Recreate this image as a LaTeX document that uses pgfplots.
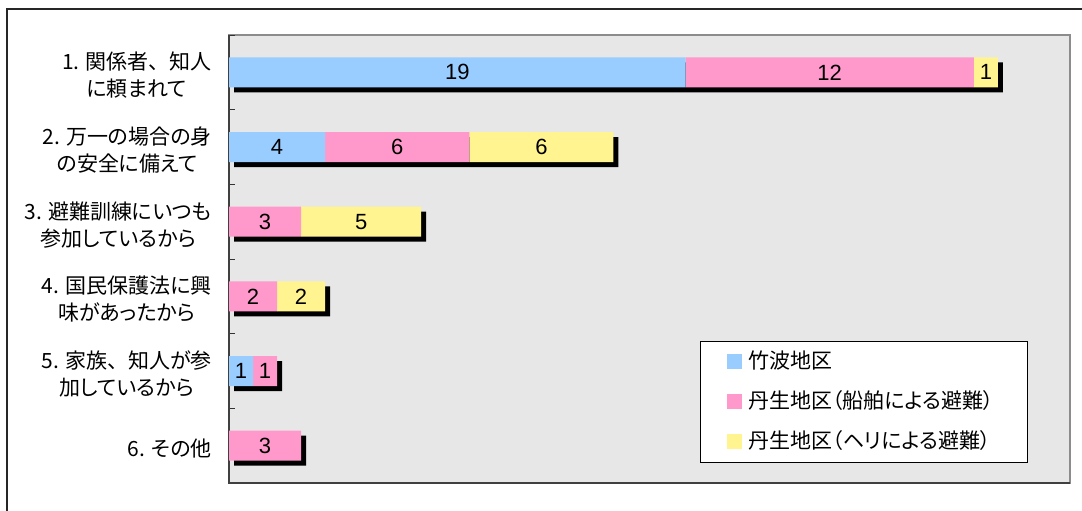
\documentclass[border=0pt]{standalone}
\usepackage{fontspec}
\setmainfont{Liberation Sans}
\newfontfamily\cjk[RawFeature=+palt]{Noto Sans CJK JP}
\newfontfamily\cjkf{Noto Sans CJK JP}
\usepackage{pgfplots}
\usepackage{pgfplotstable}
\pgfplotsset{compat=1.18}
\definecolor{cblue}{RGB}{153,204,255}
\definecolor{cpink}{RGB}{255,153,204}
\definecolor{cyel}{RGB}{255,244,143}
\definecolor{bgc}{RGB}{231,231,231}
\definecolor{framec}{RGB}{140,140,140}
\newcommand{\ten}{{\cjkf 、}}

\pgfplotstableread{
cat b p y t
0 19 12 1 32
1 4 6 6 16
2 0 3 5 8
3 0 2 2 4
4 1 1 0 2
5 0 3 0 3
}\data

\pgfplotsset{base/.style={
  width=841bp, height=448bp, scale only axis,
  at={(229bp,-35bp)}, anchor=north west,
  xmin=0, xmax=35, ymin=-0.5, ymax=5.5, y dir=reverse,
  xtick=\empty,
},
seglabel/.style={
  point meta=explicit,
  nodes near coords={\fontsize{22bp}{26bp}\selectfont\pgfmathfloatifflags{\pgfplotspointmeta}{0}{}{\pgfmathprintnumber[assume math mode=true]{\pgfplotspointmeta}}},
  every node near coord/.append style={anchor=center, text=black},
}}
\begin{document}
\begin{tikzpicture}
\useasboundingbox (0bp,0bp) rectangle (1082bp,-511bp);
\fill[white] (0bp,0bp) rectangle (1082bp,-511bp);
\draw[black!85, line width=1.3bp] (1083bp,-9bp) -- (7bp,-9bp) -- (7bp,-512bp);
\begin{axis}[base, ytick=\empty, axis background/.style={fill=bgc}, axis line style={draw=none}]
\addplot[xbar, bar width=30bp, fill=black, draw=none, xshift=5bp, yshift=-5bp] table[x=t,y=cat]{\data};
\end{axis}
\begin{axis}[base, xbar stacked, bar width=30bp, clip=false,
  axis line style={draw=framec, line width=1.3bp},
  ytick={0,...,5},
  major tick length=0pt,
  yticklabels={{1. 関係者\ten 知人\\に頼まれて},{2. 万一の場合の身\\の安全に備えて},{3. 避難訓練にいつも\\参加しているから},{4. 国民保護法に興\\味があったから},{5. 家族\ten 知人が参\\加しているから},{6. その他}},
  yticklabel style={font=\cjk\fontsize{21bp}{27bp}\selectfont, align=center, anchor=east, inner xsep=0pt, xshift=-17bp, yshift=-3bp, text=black},
  legend style={at={(0.560,0.317)}, anchor=north west, draw=black, line width=0.8bp, fill=white, inner xsep=27bp, inner ysep=8bp, row sep=15bp, font=\cjk\fontsize{21bp}{24bp}\selectfont, nodes={inner xsep=6bp, inner ysep=2bp, text height=17bp, text depth=4bp}},
  legend cell align=left,
  legend image code/.code={\fill[#1] (0bp,-7.5bp) rectangle (15bp,7.5bp);},
]
\addplot[fill=cblue, draw=none, seglabel] table[x=b,y=cat,meta=b]{\data};
\addlegendentry{竹波地区}
\addplot[fill=cpink, draw=none, seglabel] table[x=p,y=cat,meta=p]{\data};
\addlegendentry{丹生地区（船舶による避難）}
\addplot[fill=cyel, draw=none, seglabel] table[x=y,y=cat,meta=y]{\data};
\addlegendentry{丹生地区（ヘリによる避難）}
\draw[black!75, line width=1.3bp] (axis cs:0,-0.5) -- (axis cs:0,5.5) -- (axis cs:35,5.5);
\pgfplotsinvokeforeach{-0.5,0.5,1.5,2.5,3.5,4.5,5.5}{
  \draw[black!80, line width=1bp] (axis cs:0,#1) -- ++(6bp,0bp);
}
\end{axis}
\end{tikzpicture}
\end{document}
